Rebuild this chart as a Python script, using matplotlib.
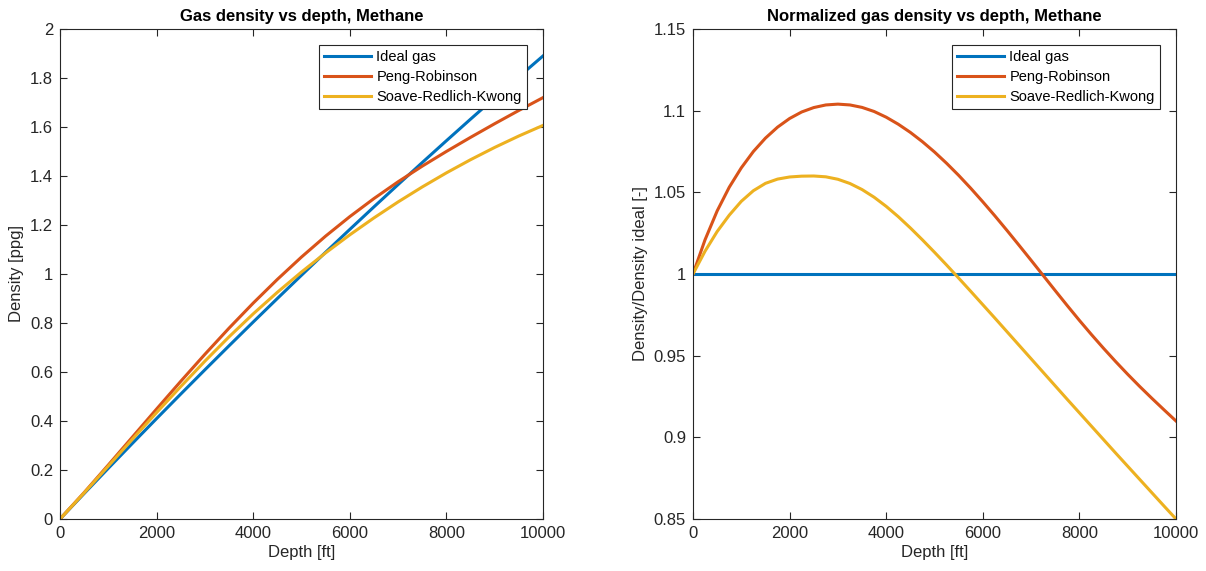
import numpy as np
import matplotlib
matplotlib.use("Agg")
import matplotlib.pyplot as plt

# depth [ft] for the density panel
depth = [0, 500, 1000, 1500, 2000, 2500, 3000, 3500, 4000, 4500, 5000,
         5500, 6000, 6500, 7000, 7500, 8000, 8500, 9000, 9500, 10000]

# gas density [ppg]
rho_ideal = [0, 0.104, 0.207, 0.309, 0.410, 0.510, 0.609, 0.707, 0.804, 0.900, 0.995,
             1.089, 1.182, 1.274, 1.365, 1.455, 1.544, 1.632, 1.719, 1.805, 1.890]
rho_pr = [0, 0.1080, 0.2205, 0.3347, 0.4490, 0.5620, 0.6723, 0.7791, 0.8812, 0.9780, 1.0693,
          1.1548, 1.2342, 1.3080, 1.3765, 1.4402, 1.5002, 1.5577, 1.6135, 1.6676, 1.7199]
rho_srk = [0, 0.1067, 0.2162, 0.3261, 0.4344, 0.5406, 0.6443, 0.7436, 0.8373, 0.9254, 1.0082,
           1.0863, 1.1598, 1.2290, 1.2942, 1.3553, 1.4128, 1.4665, 1.5167, 1.5633, 1.6065]

# depth [ft] for the normalized panel
depth_n = [0, 250, 500, 750, 1000, 1250, 1500, 1750, 2000, 2250, 2500, 2750, 3000,
           3250, 3500, 3750, 4000, 4250, 4500, 4750, 5000, 5250, 5500, 5750, 6000,
           6250, 6500, 6750, 7000, 7250, 7500, 7750, 8000, 8250, 8500, 8750, 9000,
           9250, 9500, 9750, 10000]

# density / ideal density [-]
norm_ideal = [1.0] * 41
norm_pr = [1.0000, 1.0210, 1.0386, 1.0531, 1.0650, 1.0750, 1.0832, 1.0899, 1.0952, 1.0992,
           1.1019, 1.1035, 1.1040, 1.1035, 1.1020, 1.0995, 1.0960, 1.0917, 1.0867, 1.0810,
           1.0747, 1.0678, 1.0604, 1.0525, 1.0442, 1.0356, 1.0267, 1.0176, 1.0084, 0.9991,
           0.9898, 0.9806, 0.9716, 0.9629, 0.9545, 0.9464, 0.9386, 0.9311, 0.9239, 0.9169,
           0.9100]
norm_srk = [1.0000, 1.0140, 1.0260, 1.0360, 1.0445, 1.0510, 1.0555, 1.0581, 1.0594, 1.0599,
            1.0600, 1.0595, 1.0580, 1.0554, 1.0517, 1.0470, 1.0414, 1.0351, 1.0282, 1.0209,
            1.0133, 1.0055, 0.9975, 0.9894, 0.9812, 0.9730, 0.9647, 0.9564, 0.9481, 0.9398,
            0.9315, 0.9232, 0.9150, 0.9068, 0.8986, 0.8904, 0.8823, 0.8742, 0.8661, 0.8580,
            0.8500]

labels = ["Ideal gas", "Peng-Robinson", "Soave-Redlich-Kwong"]
colors = ["#0072BD", "#D95319", "#EDB120"]

plt.rcParams['font.family'] = ['Liberation Sans', 'DejaVu Sans']
axcol = "#262626"

W, H = 1206, 571
fig = plt.figure(figsize=(W / 100, H / 100), dpi=100)


def make_axes(px0, px1, py0, py1):
    return fig.add_axes([px0 / W, 1 - py1 / H, (px1 - px0) / W, (py1 - py0) / H])


def style(ax, title, ylabel, yticks, yticklabels):
    ax.set_xlim(0, 10000)
    ax.set_xticks([0, 2000, 4000, 6000, 8000, 10000])
    ax.set_yticks(yticks)
    ax.set_yticklabels(yticklabels)
    ax.set_ylim(yticks[0], yticks[-1])
    ax.tick_params(direction='in', top=True, right=True, length=5, width=0.8,
                   colors=axcol, labelsize=12, pad=5)
    for s in ax.spines.values():
        s.set_color(axcol)
        s.set_linewidth(0.8)
    ax.set_title(title, fontsize=12, fontweight='bold', color='black', pad=6)
    ax.set_xlabel("Depth [ft]", fontsize=12, color=axcol, labelpad=3)
    ax.set_ylabel(ylabel, fontsize=12, color=axcol, labelpad=4)
    leg = ax.legend(loc='upper right', fontsize=10.5, fancybox=False, framealpha=1,
                    edgecolor=axcol, handlelength=3.2, handletextpad=0.4,
                    borderpad=0.35, labelspacing=0.42, borderaxespad=1.1)
    leg.get_frame().set_linewidth(0.8)


ax1 = make_axes(60, 543, 29, 519)
for y, lab, c in zip([rho_ideal, rho_pr, rho_srk], labels, colors):
    ax1.plot(depth, y, color=c, lw=2.2, label=lab)
yt1 = [0, 0.2, 0.4, 0.6, 0.8, 1.0, 1.2, 1.4, 1.6, 1.8, 2.0]
style(ax1, "Gas density vs depth, Methane", "Density [ppg]", yt1,
      ["0", "0.2", "0.4", "0.6", "0.8", "1", "1.2", "1.4", "1.6", "1.8", "2"])

ax2 = make_axes(693, 1176, 29, 519)
for y, lab, c in zip([norm_ideal, norm_pr, norm_srk], labels, colors):
    ax2.plot(depth_n, y, color=c, lw=2.2, label=lab)
yt2 = [0.85, 0.9, 0.95, 1.0, 1.05, 1.1, 1.15]
style(ax2, "Normalized gas density vs depth, Methane", "Density/Density ideal [-]", yt2,
      ["0.85", "0.9", "0.95", "1", "1.05", "1.1", "1.15"])

fig.savefig("out.png", dpi=100)
